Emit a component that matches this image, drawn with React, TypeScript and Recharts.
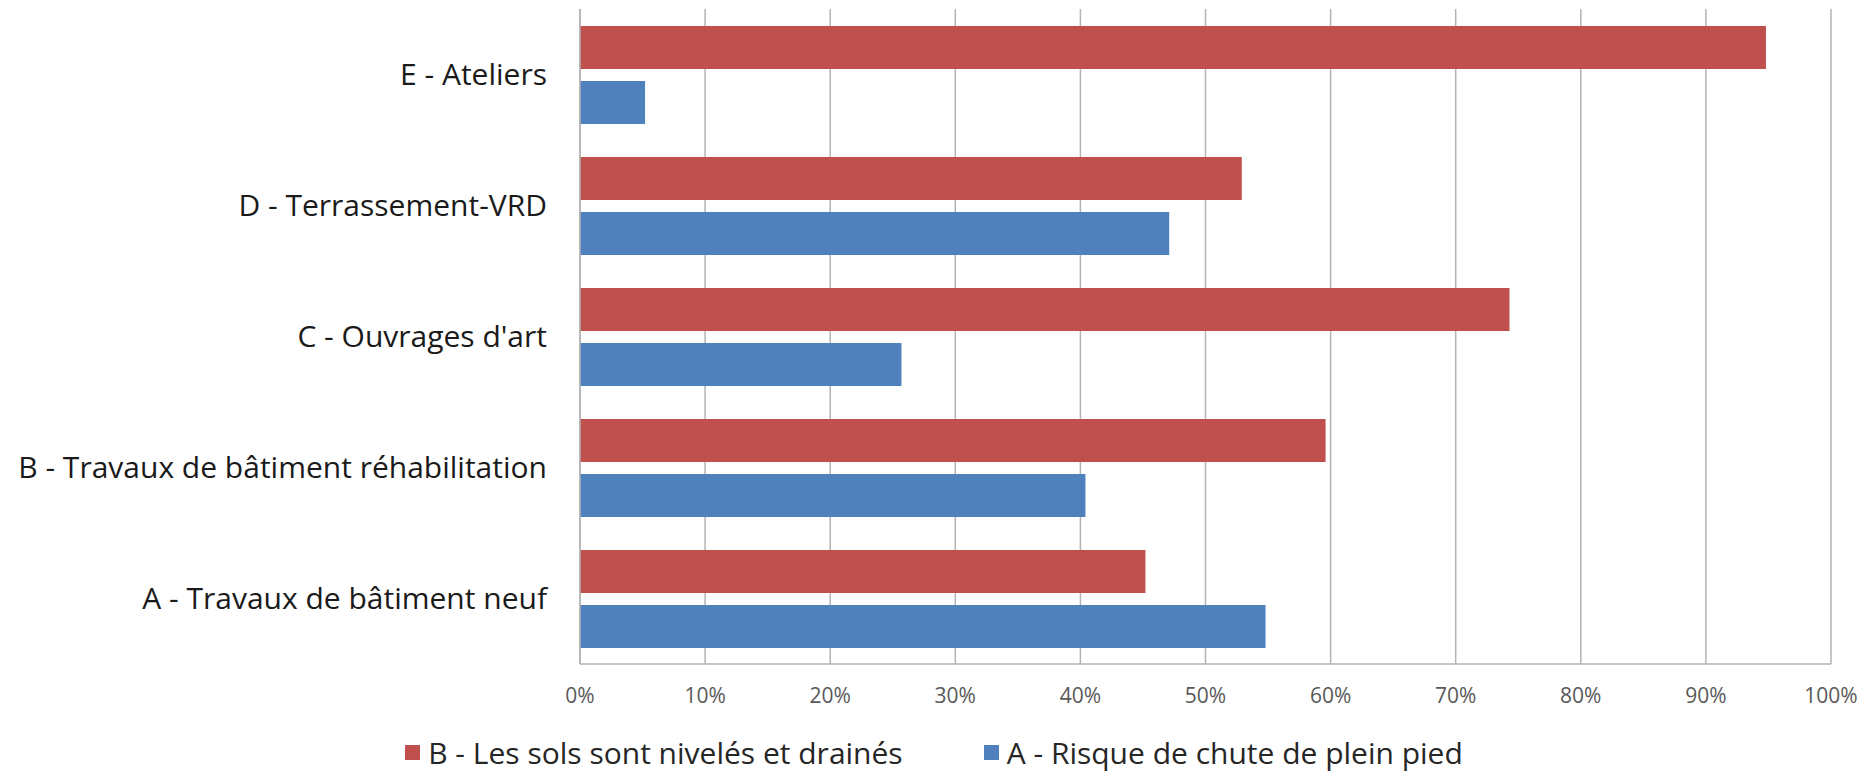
import React from 'react';
import {
  BarChart,
  Bar,
  XAxis,
  YAxis,
  CartesianGrid,
  Legend,
} from 'recharts';

const categories = [
  'E - Ateliers',
  'D - Terrassement-VRD',
  "C - Ouvrages d'art",
  'B - Travaux de bâtiment réhabilitation',
  'A - Travaux de bâtiment neuf',
];
const solsNiveles = [94.8, 52.9, 74.3, 59.6, 45.2];
const risqueChute = [5.2, 47.1, 25.7, 40.4, 54.8];
const xTicks = [0, 10, 20, 30, 40, 50, 60, 70, 80, 90, 100];

const seriesB = { key: 'b', name: 'B - Les sols sont nivelés et drainés', color: '#C0504D' };
const seriesA = { key: 'a', name: 'A - Risque de chute de plein pied', color: '#4F81BD' };

const data = categories.map((name, i) => ({
  name,
  b: solsNiveles[i],
  a: risqueChute[i],
}));

const FONT = '"Open Sans", sans-serif';

function LegendBox() {
  const items = [seriesB, seriesA];
  return (
    <div
      style={{
        height: 50,
        display: 'flex',
        justifyContent: 'center',
        alignItems: 'center',
        paddingTop: 8,
        boxSizing: 'border-box',
        fontFamily: FONT,
        fontSize: 30,
        color: '#262626',
        gap: 81,
      }}
    >
      {items.map((s) => (
        <div key={s.key} style={{ display: 'flex', alignItems: 'center' }}>
          <span style={{ width: 15, height: 15, background: s.color, marginRight: 8, display: 'inline-block' }} />
          <span>{s.name}</span>
        </div>
      ))}
    </div>
  );
}

export default function App() {
  return (
    <div style={{ position: 'absolute', left: 0, top: 0, background: '#fff' }}>
      <BarChart
        width={1868}
        height={773}
        data={data}
        layout="vertical"
        margin={{ top: 9, right: 37, bottom: 0, left: 0 }}
        barSize={43}
        barGap={12}
      >
        <CartesianGrid horizontal={false} stroke="#b3b3b3" strokeWidth={1.5} />
        <XAxis
          type="number"
          domain={[0, 100]}
          ticks={xTicks}
          tickFormatter={(v) => `${v}%`}
          height={59}
          tickSize={0}
          tickMargin={24}
          axisLine={{ stroke: '#b3b3b3', strokeWidth: 1.5 }}
          tickLine={false}
          tick={{ fill: '#595959', fontSize: 21, fontFamily: FONT }}
        />
        <YAxis
          type="category"
          dataKey="name"
          width={580}
          tickSize={0}
          tickMargin={33}
          axisLine={{ stroke: '#b3b3b3', strokeWidth: 1.5 }}
          tickLine={false}
          tick={{ fill: '#1a1a1a', fontSize: 30, fontFamily: FONT }}
        />
        <Legend verticalAlign="bottom" height={50} wrapperStyle={{ left: 0, width: 1868 }} content={() => <LegendBox />} />
        <Bar dataKey={seriesB.key} name={seriesB.name} fill={seriesB.color} isAnimationActive={false} />
        <Bar dataKey={seriesA.key} name={seriesA.name} fill={seriesA.color} isAnimationActive={false} />
      </BarChart>
    </div>
  );
}
